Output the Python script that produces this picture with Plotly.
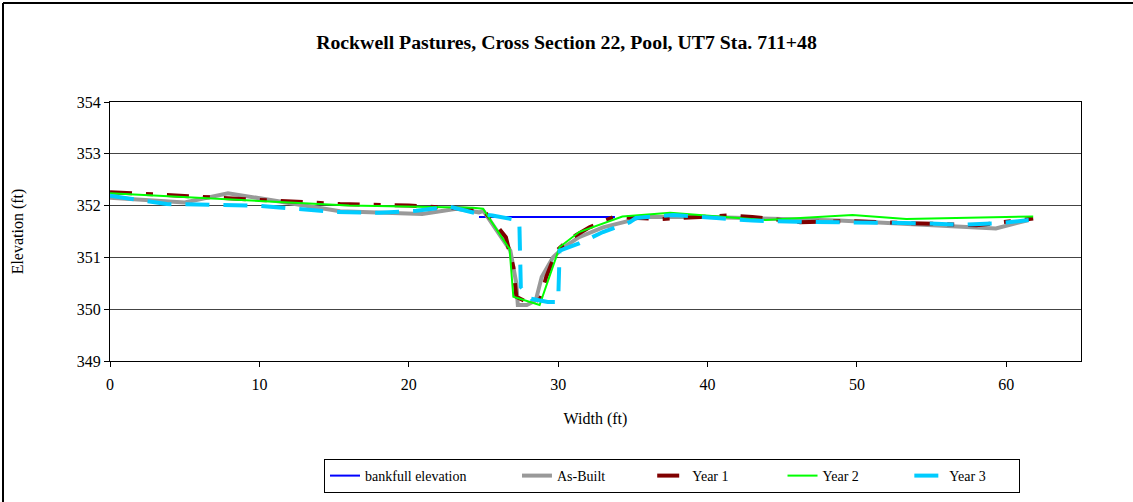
import plotly.graph_objects as go

# Bankfull elevation
bank_x = [24.7, 33.8]
bank_y = [351.78, 351.78]

# As-Built
ab_x = [0, 5.0, 7.9, 11.8, 15.4, 20.9, 23.2, 24.7, 25.0, 26.8, 27.2, 27.3, 27.9, 28.5, 28.9, 29.65, 30.4, 31.4, 33.0, 34.8, 35.5, 40.0, 48.8, 59.3, 61.5]
ab_y = [352.15, 352.06, 352.24, 352.06, 351.89, 351.84, 351.94, 351.87, 351.9, 351.13, 350.5, 350.08, 350.08, 350.17, 350.62, 351.0, 351.2, 351.39, 351.58, 351.71, 351.78, 351.78, 351.71, 351.56, 351.72]

# Year 1
y1_x = [0, 15.4, 20.0, 24.95, 25.6, 26.5, 27.0, 27.2, 28.1, 28.8, 29.2, 29.9, 30.8, 32.1, 33.7, 36.8, 41.5, 43.0, 46.2, 49.5, 58.0, 60.0, 61.8]
y1_y = [352.26, 352.03, 352.0, 351.92, 351.71, 351.39, 350.81, 350.24, 350.11, 350.2, 350.62, 351.13, 351.36, 351.58, 351.78, 351.74, 351.81, 351.78, 351.68, 351.7, 351.62, 351.68, 351.75]

# Year 2
y2_x = [0, 16.0, 24.3, 24.97, 26.75, 27.0, 28.76, 30.1, 31.4, 33.0, 34.3, 37.5, 43.9, 49.7, 53.3, 61.8]
y2_y = [352.24, 352.0, 351.96, 351.94, 351.16, 350.24, 350.08, 351.2, 351.49, 351.65, 351.79, 351.86, 351.72, 351.82, 351.74, 351.79]

# Year 3
y3_x = [0, 3.8, 9.8, 12.7, 14.9, 18.0, 20.5, 22.7, 24.7, 25.6, 27.0, 27.4, 27.5, 28.2, 29.3, 30.0, 30.1, 31.4, 33.0, 34.8, 35.2, 37.7, 40.6, 43.0, 46.0, 48.8, 51.6, 54.2, 56.9, 59.5, 61.5]
y3_y = [352.19, 352.03, 352.0, 351.94, 351.88, 351.86, 351.9, 351.98, 351.84, 351.81, 351.74, 351.71, 350.43, 350.2, 350.14, 350.14, 351.13, 351.27, 351.49, 351.68, 351.76, 351.82, 351.76, 351.71, 351.69, 351.68, 351.68, 351.66, 351.63, 351.66, 351.72]

x_ticks = [0, 10, 20, 30, 40, 50, 60]
y_ticks = [349, 350, 351, 352, 353, 354]

FONT = "Liberation Serif, Times New Roman, serif"
NB = "\u00a0"

fig = go.Figure()
fig.add_trace(go.Scatter(x=bank_x, y=bank_y, mode="lines", name="bankfull elevation" + NB * 13,
                         line=dict(color="#0000FF", width=2)))
fig.add_trace(go.Scatter(x=ab_x, y=ab_y, mode="lines", name="As-Built" + NB * 12,
                         line=dict(color="#999999", width=4)))
fig.add_trace(go.Scatter(x=y1_x, y=y1_y, mode="lines", name="Year 1" + NB * 14,
                         line=dict(color="#800000", width=4, dash="22px,14px,7px,14px")))
fig.add_trace(go.Scatter(x=y2_x, y=y2_y, mode="lines", name="Year 2" + NB * 13,
                         line=dict(color="#00FF00", width=2)))
fig.add_trace(go.Scatter(x=y3_x, y=y3_y, mode="lines", name="Year 3" + NB * 8,
                         line=dict(color="#00CCFF", width=4, dash="24px,14px")))

L, R, T, B = 110, 1081, 102, 361
W, H = 1133, 502
pw, ph = R - L, B - T

def px(xp):
    return (xp - L) / pw

def py(yp):
    return (B - yp) / ph

fig.update_layout(
    width=W, height=H,
    margin=dict(l=L, r=W - R, t=T, b=H - B, autoexpand=False),
    paper_bgcolor="white", plot_bgcolor="white",
    font=dict(family=FONT, size=16, color="black"),
    title=dict(text="<b>Rockwell Pastures, Cross Section 22, Pool, UT7 Sta. 711+48</b>",
               x=0.5, xanchor="center", y=1 - 42 / H, yanchor="middle",
               font=dict(family=FONT, size=19.8, color="black")),
    xaxis=dict(range=[0, 65], tickvals=x_ticks, showgrid=False, zeroline=False,
               showline=True, linecolor="black", linewidth=1, mirror=True,
               ticks="outside", ticklen=5, tickcolor="black", ticklabelstandoff=4,
               tickfont=dict(family=FONT, size=16), automargin=False,
               title=dict(text="Width (ft)", font=dict(family=FONT, size=16), standoff=20)),
    yaxis=dict(range=[349, 354], tickvals=y_ticks, showgrid=True, gridcolor="#444444", gridwidth=1,
               zeroline=False, showline=True, linecolor="black", linewidth=1, mirror=True,
               ticks="outside", ticklen=5, tickcolor="black", automargin=False,
               tickfont=dict(family=FONT, size=16),
               title=dict(text="Elevation (ft)", font=dict(family=FONT, size=16), standoff=49)),
    legend=dict(orientation="h", x=px(672), y=py(476), xanchor="center", yanchor="middle",
                bordercolor="black", borderwidth=1, bgcolor="white",
                font=dict(family=FONT, size=14), tracegroupgap=0),
    showlegend=True,
)

# outer chart frame (left and top edges visible)
fig.add_shape(type="line", xref="paper", yref="paper", x0=px(3), x1=px(1133), y0=py(3), y1=py(3),
              line=dict(color="black", width=2))
fig.add_shape(type="line", xref="paper", yref="paper", x0=px(3), x1=px(3), y0=py(3), y1=py(502),
              line=dict(color="black", width=2))

fig.write_html("out.html", config={"displayModeBar": False},
               post_script="document.body.style.margin='0';document.body.style.overflow='hidden';")
